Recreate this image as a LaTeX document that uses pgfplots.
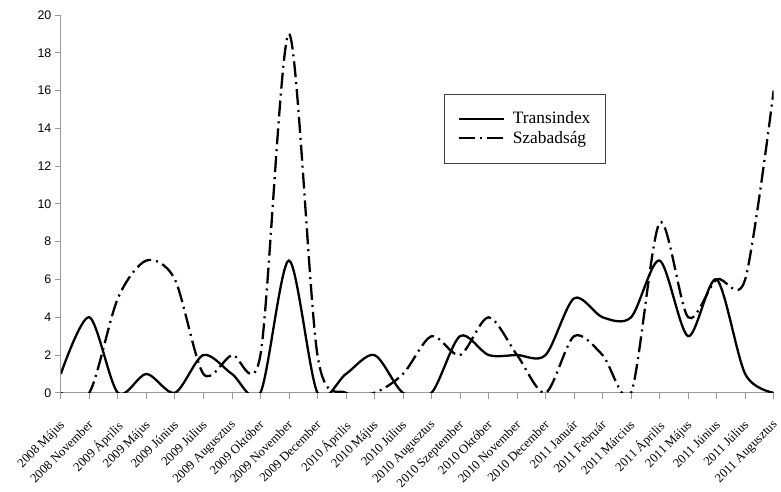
\documentclass[border=0pt]{standalone}
\usepackage{fontspec}
\setmainfont{Liberation Serif}
\newfontfamily\arialfont{Liberation Sans}
\usepackage{pgfplots}
\pgfplotsset{compat=1.18}
\usepackage{pgfplotstable}

% monthly counts, x = category index
\pgfplotstableread{
x trans szab
0 1 0
1 4 0
2 0 5
3 1 7
4 0 6
5 2 1
6 1 2
7 0 2
8 7 19
9 0 2
10 1 0
11 2 0
12 0 1
13 0 3
14 3 2
15 2 4
16 2 2
17 2 0
18 5 3
19 4 2
20 4 0
21 7 9
22 3 4
23 6 6
24 1 6
25 0 16
}\datatable

\begin{document}
\begin{tikzpicture}
\begin{axis}[
    name=ax,
    scale only axis,
    width=715bp,
    height=379bp,
    xmin=0, xmax=25,
    ymin=0, ymax=20,
    axis lines=left,
    axis line style={draw=black!40, line width=0.8bp, -},
    xtick={0,...,25},
    xticklabels={2008 Május, 2008 November, 2009 Április, 2009 Május, 2009 Június, 2009 Július, 2009 Augusztus, 2009 Október, 2009 November, 2009 December, 2010 Április, 2010 Május, 2010 Július, 2010 Augusztus, 2010 Szeptember, 2010 Október, 2010 November, 2010 December, 2011 Január, 2011 Február, 2011 Március, 2011 Április, 2011 Május, 2011 Június, 2011 Július, 2011 Augusztus},
    ytick={0,2,...,20},
    tick align=outside,
    major tick length=6bp,
    tick style={draw=black!40, line width=0.8bp},
    xticklabel style={xshift=-2bp, yshift=-19bp, rotate=45, anchor=north east,
        inner sep=1bp, font=\fontsize{12.8}{13}\selectfont},
    yticklabel style={font=\arialfont\fontsize{12.5}{14}\selectfont},
    /pgf/number format/assume math mode=true,
    legend style={at={(0.538,0.792)}, anchor=north west, draw=black!75,
        line width=0.8bp, inner xsep=13bp, inner ysep=16bp,
        font=\fontsize{17.5}{19}\selectfont, row sep=2bp},
    legend cell align=left,
    legend image code/.code={\draw[#1] (0bp,0bp) -- (45bp,0bp); \path (51bp,0bp);},
]
\addplot[black, line width=2.3bp, smooth] table[x=x, y=trans] {\datatable};
\addlegendentry{Transindex}
\addplot[black, line width=2.3bp, smooth,
    dash pattern=on 16bp off 5bp on 2bp off 5bp] table[x=x, y=szab] {\datatable};
\addlegendentry{Szabadság}
\end{axis}
% fix the page to the reference margins round the plot area
\path ([xshift=-61bp, yshift=-96bp]ax.south west)
      ([xshift=5bp, yshift=15bp]ax.north east);
\end{tikzpicture}
\end{document}
